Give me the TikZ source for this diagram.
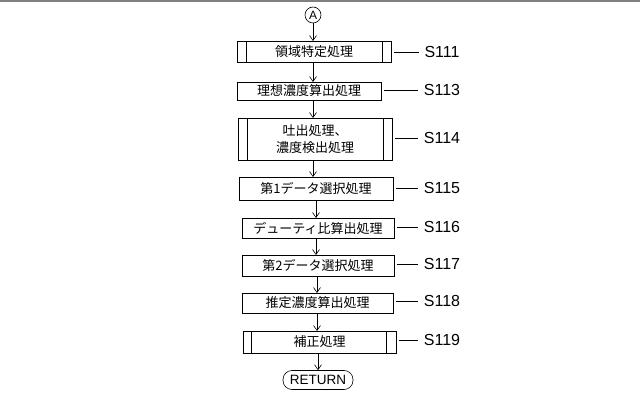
\documentclass[tikz,border=0pt]{standalone}
\usepackage{fontspec}
\setmainfont{Liberation Sans}
\newfontfamily\cjk{Noto Sans CJK JP}
\usetikzlibrary{arrows.meta}
\begin{document}
\begin{tikzpicture}
        [x=1pt,y=-1pt,every node/.style={font=\cjk\fontsize{13}{17}\selectfont},
         box/.style={draw,line width=0.6pt},
         lead/.style={line width=0.5pt},
         flow/.style={line width=0.6pt,-{Straight Barb[length=5pt,width=7pt]}}]

        \useasboundingbox (0,0) rectangle (640,414);
        \draw[gray,line width=1.2pt] (0,1) -- (640,1);

        % start and end
        \node[draw,circle,inner sep=0,minimum size=16pt,line width=0.6pt,font=\fontsize{12}{14}\selectfont] (a) at (313,15) {A};
        \node[draw,rounded corners=9pt,minimum width=70pt,minimum height=19pt,inner sep=1pt,line width=0.6pt,font=\fontsize{13.5}{15}\selectfont] (ret) at (318,380) {RETURN};

        % boxes
        \node[box,minimum width=154pt,minimum height=21pt,inner sep=1pt] (s111) at (314,52) {領域特定処理};
        \node[box,minimum width=144pt,minimum height=18pt,inner sep=1pt] (s113) at (309,91) {理想濃度算出処理};
        \node[box,minimum width=154pt,minimum height=42pt,inner sep=1pt,align=center] (s114) at (315,139) {吐出処理、\\濃度検出処理};
        \node[box,minimum width=154pt,minimum height=23pt,inner sep=1pt] (s115) at (316,188.5) {第1データ選択処理};
        \node[box,minimum width=152pt,minimum height=20pt,inner sep=1pt] (s116) at (318,228) {デューティ比算出処理};
        \node[box,minimum width=152pt,minimum height=21pt,inner sep=1pt] (s117) at (318,265.5) {第2データ選択処理};
        \node[box,minimum width=151pt,minimum height=20pt,inner sep=1pt] (s118) at (317.5,303) {推定濃度算出処理};
        \node[box,minimum width=153pt,minimum height=22pt,inner sep=1pt] (s119) at (319.5,342) {補正処理};

        % subroutine bars
        \draw[line width=0.6pt] (246,41) -- (246,63) (382,41) -- (382,63);
        \draw[line width=0.6pt] (247,118) -- (247,160) (383,118) -- (383,160);
        \draw[line width=0.6pt] (251,331) -- (251,353) (386,331) -- (386,353);

        % step labels
        \foreach \n/\y in {111/52,113/90,114/138,115/188,116/227,117/264,118/301,119/340}{
          \node[font=\fontsize{16}{18}\selectfont] (l\n) at (442,\y) {S\n};
          \draw[lead] (s\n.east |- l\n) ++(3,0) coordinate (c\n) -- ([xshift=-2pt]l\n.west);
        }

        % flow
        \draw[flow] (a) -- (313,41);
        \draw[flow] (313,63) -- (313,82);
        \draw[flow] (313,100) -- (313,118);
        \draw[flow] (313,160) -- (313,177);
        \draw[flow] (316,200) -- (316,218);
        \draw[flow] (316,238) -- (316,255);
        \draw[flow] (317,276) -- (317,293);
        \draw[flow] (317,313) -- (317,331);
        \draw[flow] (318,353) -- (ret);

      \end{tikzpicture}
\end{document}
